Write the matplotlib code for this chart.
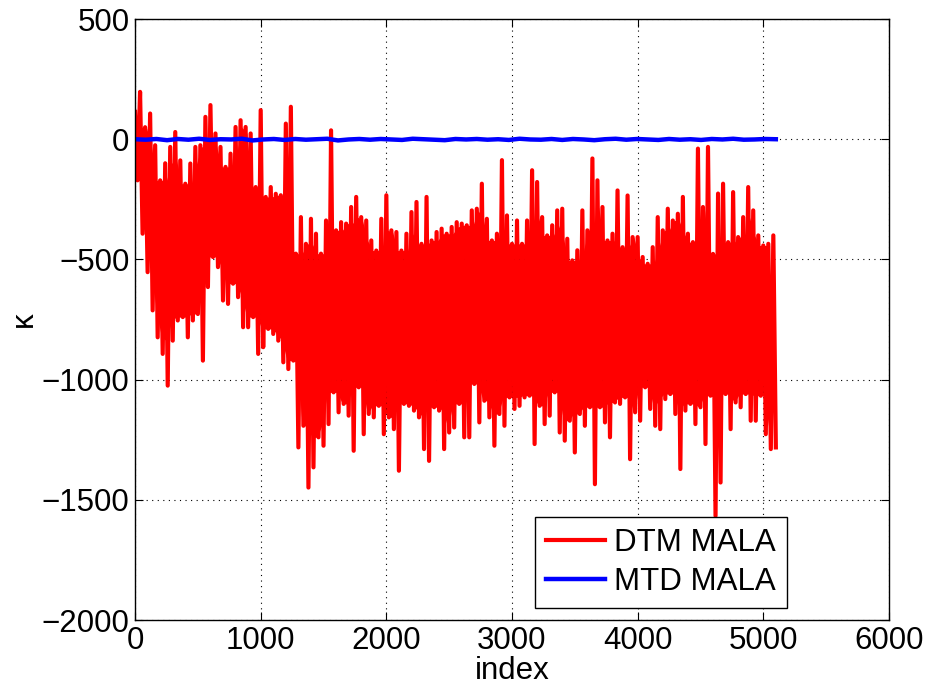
import matplotlib
matplotlib.use("Agg")
import matplotlib.pyplot as plt
import numpy as np

plt.rcParams["font.family"] = ["Liberation Sans", "DejaVu Sans"]
plt.rcParams["font.size"] = 22.5

# DTM MALA trace, read off the picture as upper and lower envelopes,
# one value per column of 40 samples (upper at k*40, lower at k*40+20)
dtm_upper = [
    114, 197, 50, 107, -25, -171, -100, -32, 30, -88, -185, -101, -32, -25, 93, 142,
    24, -32, -115, -60, 51, 79,
    51, 24, -199, 121, -240, -199, -227, -233, 65, 135, -476, -324, -435, -331, -393,
    -476, -338, 37, -379, -345, -351, -282,
    -240, -324, -338, -421, -463, -331, -233, -379, -386, -463, -393, -303, -261, -435,
    -240, -421, -386, -372, -393, -365, -345, -351,
    -358, -296, -289, -185, -331, -421, -393, -87, -317, -435, -338, -435, -338, -129,
    -178, -324, -400, -358, -296, -289, -414, -504,
    -462, -296, -379, -80, -171, -282, -421, -393, -213, -449, -234, -407, -407, -490,
    -518, -449, -324, -379, -289, -338, -310, -240,
    -393, -428, -39, -282, -32, -477, -226, -185, -428, -220, -407, -324, -199, -296,
    -400, -442, -435, -400,
]
dtm_lower = [
    -171, -393, -553, -712, -824, -893, -1025, -838, -754, -740, -824, -754, -727, -921,
    -615, -490, -532, -671, -685, -601, -657, -782,
    -782, -740, -893, -865, -789, -810, -838, -928, -956, -921, -1282, -1192, -1449,
    -1365, -1240, -1275, -1185, -1053, -1136, -1101, -1150, -1296,
    -1032, -1227, -1143, -1157, -1109, -1227, -1157, -1206, -1379, -1101, -1109, -1129,
    -1157, -1289, -1338, -1115, -1129, -1289, -1220, -1199, -1101, -1240,
    -1240, -1018, -1178, -1088, -1157, -1275, -1143, -1192, -1074, -1122, -1109, -1074,
    -1067, -1268, -1109, -1185, -1150, -1053, -1220, -1254, -1171, -1303,
    -1143, -1192, -1115, -1435, -1115, -1178, -1240, -1095, -1101, -1074, -1331, -1136,
    -1171, -1032, -1122, -1192, -1206, -1081, -1060, -1143, -1372, -1129,
    -1101, -1185, -1115, -1268, -1067, -1567, -1428, -1060, -1206, -1095, -1115, -1060,
    -1171, -1171, -1067, -1227, -1289, -1282,
]
dtm_step = 40

# MTD MALA trace: stays at about zero, small wiggles
mtd_values = [
    0, -2, 1, -4, 1, -2, 2, -3, 0, -1, 2, -5, -1, 1, -3, 1, -2, 0, 2, -5, -1, 1,
    -2, 1, -1, -3, 2, 0, -2, -4, 1, -1, 1, -2, 0, -3, 2, -1, -2, 1, -3, 1, -1, -4,
    0, 2, -2, 1, -1, -3, 1, -2, 0, -3, 1, -1, 2, -2, -1, 1, 0,
]
mtd_last = 5100

x_ticks = [0, 1000, 2000, 3000, 4000, 5000, 6000]
y_ticks = [-2000, -1500, -1000, -500, 0, 500]

# interleave the two envelopes into one trace
up = np.array(dtm_upper, dtype=float)
lo = np.array(dtm_lower, dtype=float)
dtm = np.empty(2 * len(up))
dtm[0::2] = up
dtm[1::2] = lo
dtm_x = np.arange(len(dtm)) * (dtm_step / 2)

# solid core of the band: the inner edge of neighbouring columns
core_top = np.minimum(np.minimum(up, np.roll(up, 1)), np.roll(up, -1))
core_bot = np.maximum(np.maximum(lo, np.roll(lo, 1)), np.roll(lo, -1))
core_x = np.arange(len(up)) * dtm_step + dtm_step / 4

mtd_x = np.linspace(0, mtd_last, len(mtd_values))

fig = plt.figure(figsize=(9.25, 6.87), dpi=100)
ax = fig.add_axes([0.146, 0.0975, 0.815, 0.8748])

ax.fill_between(core_x[1:-1], core_top[1:-1], core_bot[1:-1], color="#ff0000", lw=0)
ax.plot(dtm_x, dtm, color="#ff0000", lw=3.0, label="DTM MALA")
ax.plot(mtd_x, mtd_values, color="#0000ff", lw=3.2, label="MTD MALA")

ax.set_xlim(0, 6000)
ax.set_ylim(-2000, 500)
ax.set_xticks(x_ticks)
ax.set_yticks(y_ticks)
ax.grid(True, color="black", linestyle=(0, (1, 4)), linewidth=0.8)
ax.tick_params(direction="in", length=6, width=0.8, top=True, right=True, pad=4)
for s in ax.spines.values():
    s.set_linewidth(1.0)

ax.set_xlabel("index", labelpad=0)
ax.set_ylabel("κ", labelpad=2)

leg = ax.legend(loc="lower right", bbox_to_anchor=(0.865, 0.02), borderaxespad=0,
                fancybox=False, framealpha=1, edgecolor="black", handlelength=1.9,
                borderpad=0.35, labelspacing=0.3, handletextpad=0.3)
leg.get_frame().set_linewidth(1.0)

fig.savefig("out.png", dpi=100)
